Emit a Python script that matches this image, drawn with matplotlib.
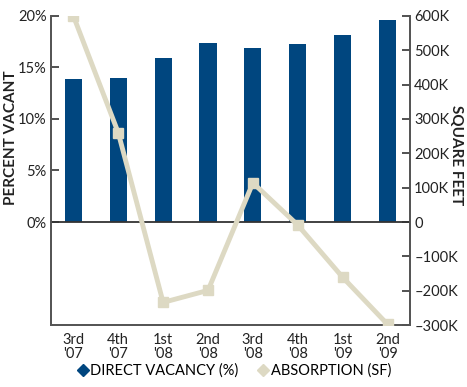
import matplotlib
matplotlib.use("Agg")
import matplotlib.pyplot as plt
from matplotlib.lines import Line2D
from matplotlib.ticker import FuncFormatter

plt.rcParams['font.family'] = ['Lato', 'DejaVu Sans']

# data
quarters = ["3rd\n'07", "4th\n'07", "1st\n'08", "2nd\n'08", "3rd\n'08", "4th\n'08", "1st\n'09", "2nd\n'09"]
vacancy_pct = [13.9, 14.0, 15.9, 17.4, 16.9, 17.3, 18.1, 19.6]
absorption_sf = [600000, 260000, -234000, -199000, 114000, -9000, -161000, -298000]

bar_color = '#00467f'
line_color = '#ddd9c3'
axis_color = '#555555'

fig = plt.figure(figsize=(4.67, 3.87), dpi=100)
ax1 = fig.add_axes([0.109, 0.160, 0.769, 0.799])
ax2 = ax1.twinx()

x = list(range(len(quarters)))
ax1.bar(x, vacancy_pct, width=0.38, color=bar_color, zorder=2)
ax1.axhline(0, color='#333333', linewidth=1.3, zorder=3)
ax1.set_xlim(-0.5, 7.5)
ax1.set_ylim(-10, 20)
ax1.set_yticks([0, 5, 10, 15, 20])
ax1.yaxis.set_major_formatter(FuncFormatter(lambda v, p: f"{v:.0f}%"))
ax1.set_xticks(x)
ax1.set_xticklabels(quarters, fontsize=10.5, color='#222222', linespacing=0.95)
ax1.tick_params(axis='x', length=0, pad=6)
ax1.tick_params(axis='y', direction='in', length=6, width=1.2, color='#333333',
                labelsize=10.5, labelcolor='#222222', pad=3)

ax2.plot(x, absorption_sf, color=line_color, linewidth=3.5, marker='s', markersize=7,
         zorder=4)
ax2.set_ylim(-300000, 600000)
ax2.set_yticks(range(-300000, 600001, 100000))


def fmt_k(v, p):
    if v == 0:
        return "0"
    s = f"{abs(v) / 1000:.0f}K"
    return "\u2013" + s if v < 0 else s


ax2.yaxis.set_major_formatter(FuncFormatter(fmt_k))
ax2.tick_params(axis='y', direction='in', length=6, width=1.2, color='#333333',
                labelsize=10.5, labelcolor='#222222', pad=3)

for ax in (ax1, ax2):
    ax.spines['top'].set_visible(False)
    for s in ('left', 'right', 'bottom'):
        ax.spines[s].set_color(axis_color)
        ax.spines[s].set_linewidth(1.3)

# axis titles placed by hand, as in the reference
fig.text(0.024, 0.645, 'PERCENT VACANT', rotation=90, ha='center', va='center',
         fontsize=11, fontweight='bold', color='#222222')
fig.text(0.976, 0.60, 'SQUARE FEET', rotation=-90, ha='center', va='center',
         fontsize=11, fontweight='bold', color='#222222')

handles = [
    Line2D([], [], linestyle='none', marker='D', markersize=6, color=bar_color),
    Line2D([], [], linestyle='none', marker='D', markersize=6, color=line_color),
]
fig.legend(handles, ['DIRECT VACANCY (%)', 'ABSORPTION (SF)'], loc='lower center',
           bbox_to_anchor=(0.5, -0.01), ncol=2, frameon=False, fontsize=10.5,
           handletextpad=0.0, columnspacing=1.2, handlelength=1.0)

fig.savefig('out.png', dpi=100)
